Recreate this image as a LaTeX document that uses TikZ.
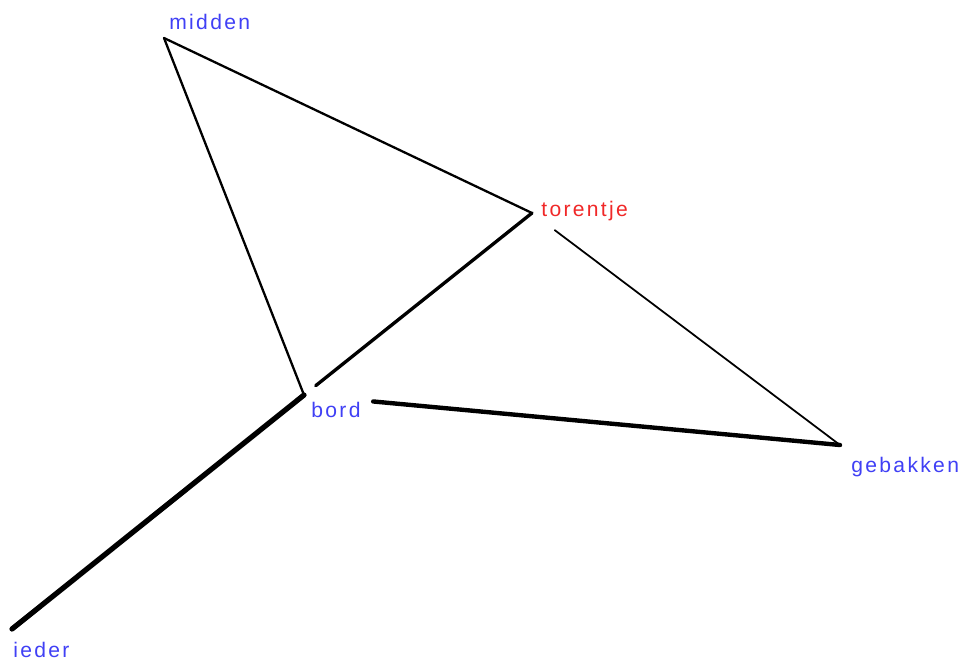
\documentclass[tikz,border=0pt]{standalone}
\usepackage{fontspec}
\setmainfont{Liberation Sans}[LetterSpace=11]
\definecolor{wordBlue}{RGB}{64,64,245}
\definecolor{wordRed}{RGB}{240,40,40}

\begin{document}
\begin{tikzpicture}[x=0.02cm, y=-0.02cm, font=\fontsize{12}{14}\selectfont,
		word/.style={anchor=base west, inner sep=0pt, text=wordBlue},
		link/.style={line cap=round, black}]
		\useasboundingbox (0, 0) rectangle (967, 664);
		% word positions, one unit is one pixel of the layout
		\coordinate (midden) at (164, 38);
		\coordinate (torentje) at (532, 213);
		\coordinate (bord) at (304, 395);
		\coordinate (gebakken) at (840, 445);
		\coordinate (ieder) at (12, 629);
		% labels
		\node[word] (midden-l) at (169, 29) {midden};
		\node[word, text=wordRed] (torentje-l) at (541, 216) {torentje};
		\node[word] (bord-l) at (311, 417) {bord};
		\node[word] (gebakken-l) at (851, 472) {gebakken};
		\node[word] (ieder-l) at (13, 657) {ieder};
		% links, thicker for stronger association
		\draw[link, line width=1.3pt] (midden) -- (torentje);
		\draw[link, line width=1.3pt] (midden) -- (bord);
		\draw[link, line width=1.9pt, shorten <=0.3cm] (bord) -- (torentje);
		\draw[link, line width=1pt, shorten <=0.57cm] (torentje) -- (gebakken);
		\draw[link, line width=2.5pt, shorten <=1.39cm] (bord) -- (gebakken);
		\draw[link, line width=3pt] (bord) -- (ieder);
	\end{tikzpicture}
\end{document}
